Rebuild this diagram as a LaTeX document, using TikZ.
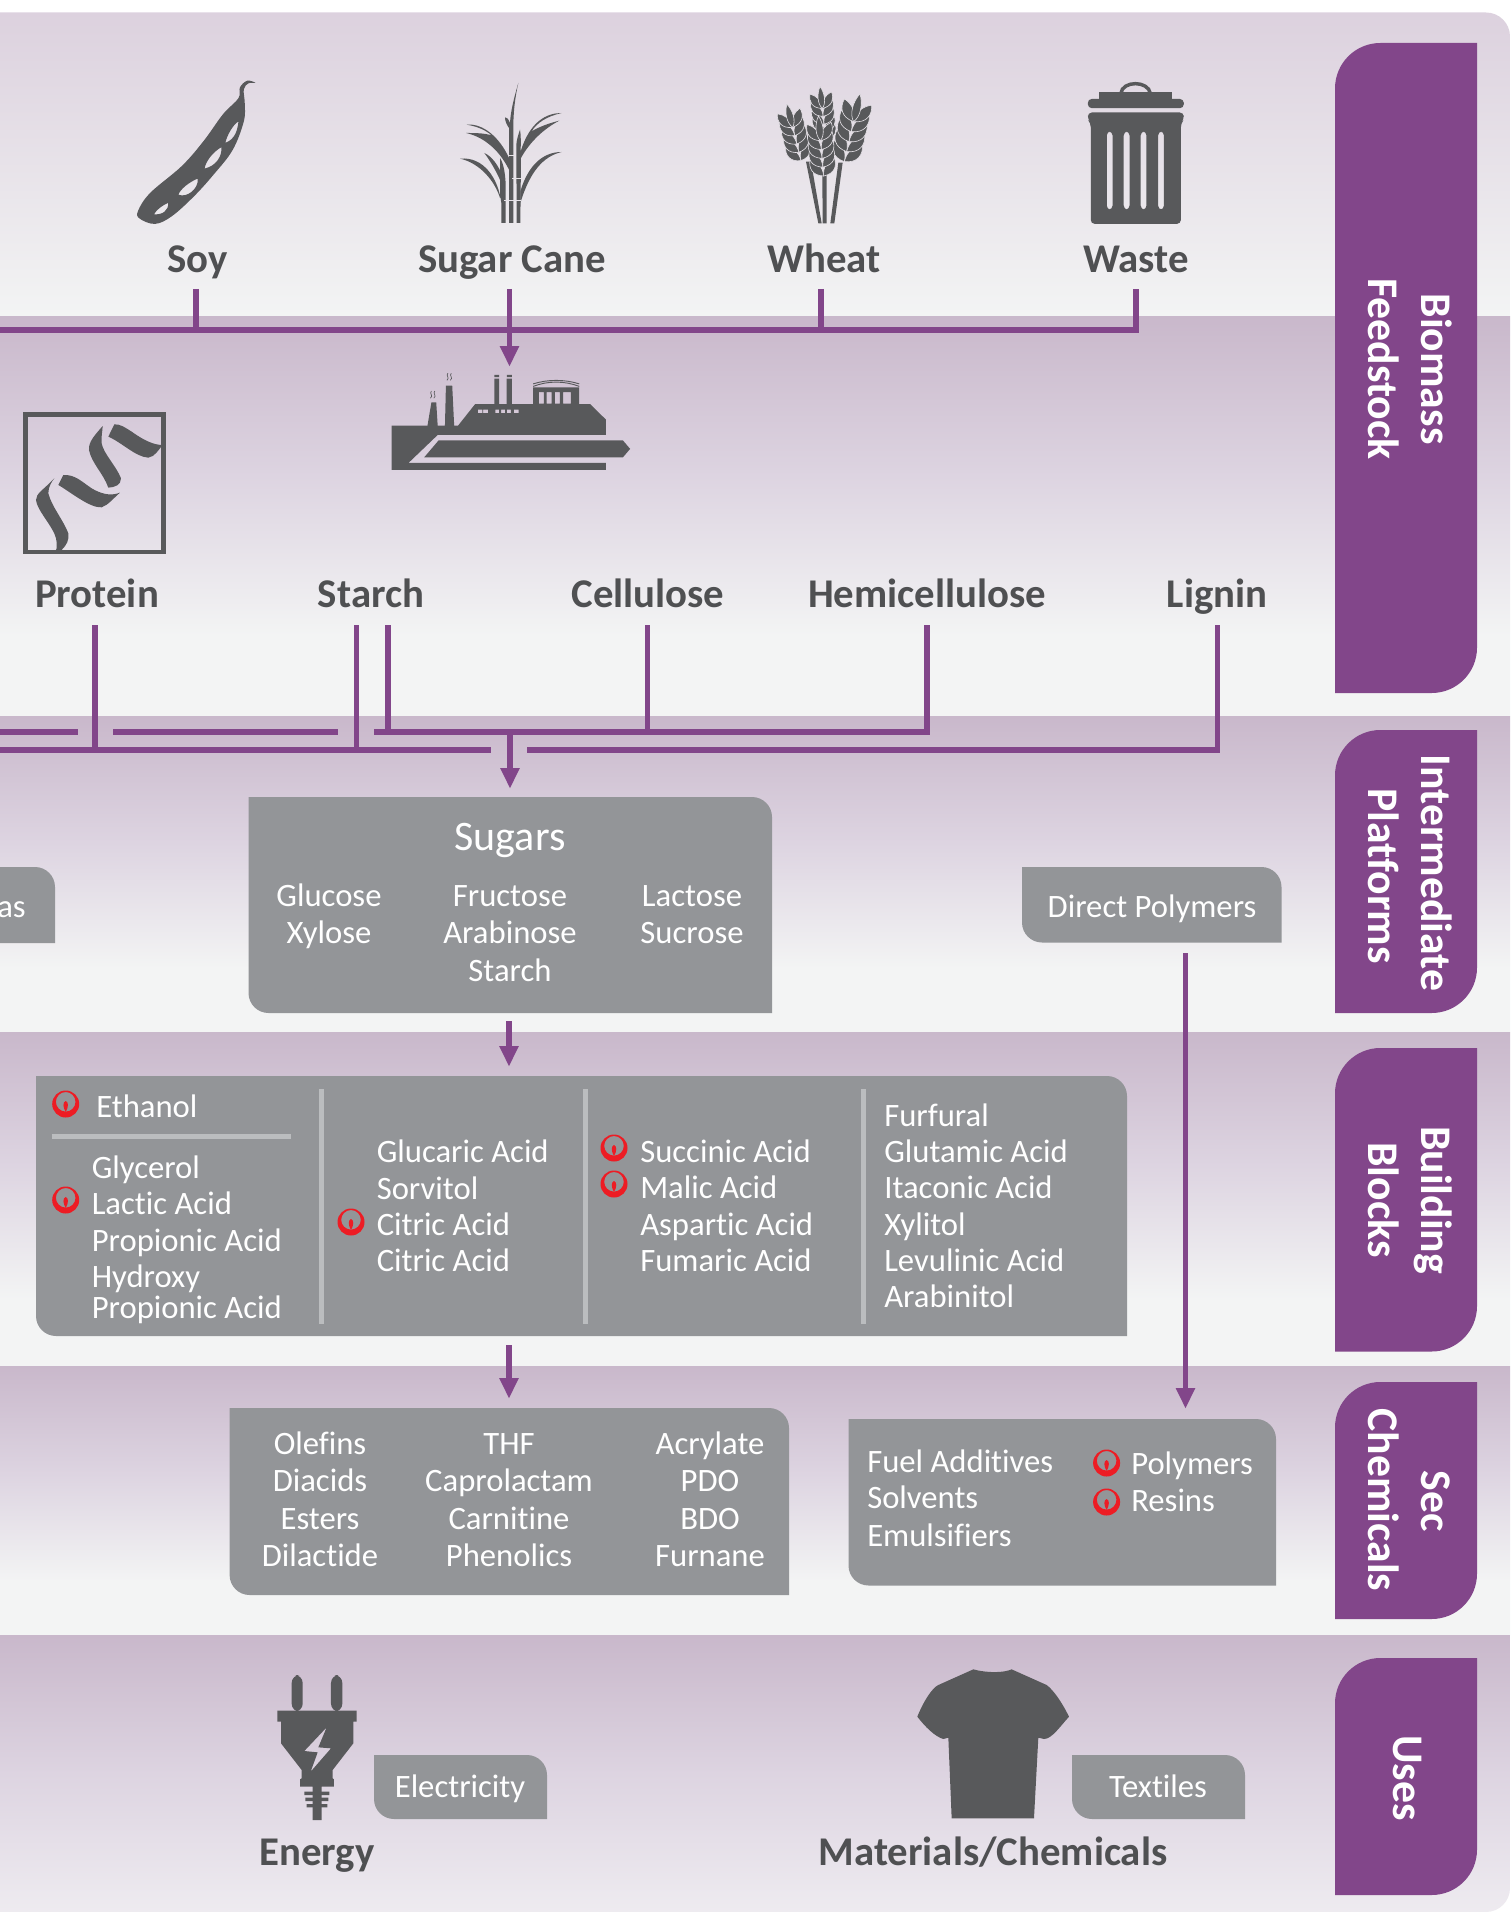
\documentclass[tikz,border=0pt]{standalone}
\usepackage{fontspec}
\setmainfont{Carlito}[Ligatures={NoCommon}]
\usetikzlibrary{arrows.meta,fit}

\definecolor{tabpurple}{HTML}{82468A}
\definecolor{boxgrey}{HTML}{939598}
\definecolor{icongrey}{HTML}{58595B}
\definecolor{labelgrey}{HTML}{4F5052}
\definecolor{rulegrey}{HTML}{BBBDBF}
\definecolor{markred}{HTML}{ED1C24}
\definecolor{hollow}{HTML}{E6E2E8}
\definecolor{bandtop}{HTML}{C9B8CB}
\definecolor{bandmid}{HTML}{DDD4E1}
\definecolor{bandlow}{HTML}{F3F4F4}
\definecolor{firsttop}{HTML}{DCD1DE}
\definecolor{lastlow}{HTML}{EEEBF0}

\pgfdeclareverticalshading{bandfade}{100bp}{color(0bp)=(bandlow);
  color(35bp)=(bandlow);
  color(55bp)=(bandmid);
  color(75bp)=(bandtop);
  color(100bp)=(bandtop)}
\pgfdeclareverticalshading{bandfadetop}{100bp}{color(0bp)=(bandlow);
  color(25bp)=(bandlow);
  color(75bp)=(firsttop);
  color(100bp)=(firsttop)}
\pgfdeclareverticalshading{bandfadelow}{100bp}{color(0bp)=(lastlow);
  color(25bp)=(lastlow);
  color(50bp)=(bandmid);
  color(75bp)=(bandtop);
  color(100bp)=(bandtop)}

\tikzset{
  leafbox/.style={inner sep=0pt,path picture={\fill[boxgrey] (path picture bounding box.north west) [rounded corners=15pt] -- (path picture bounding box.north east) [sharp corners] -- (path picture bounding box.south east) [rounded corners=15pt] -- (path picture bounding box.south west) [sharp corners] -- cycle;}},
  tabbox/.style={inner sep=0pt,path picture={\fill[tabpurple] (path picture bounding box.north east) [rounded corners=34pt] -- (path picture bounding box.north west) [sharp corners] -- (path picture bounding box.south west) [rounded corners=34pt] -- (path picture bounding box.south east) [sharp corners] -- cycle;}},
  bodytext/.style={anchor=base,inner sep=0pt,text=white,font=\fontsize{24.5pt}{26pt}\selectfont},
  lefttext/.style={bodytext,anchor=base west},
  croplabel/.style={anchor=base,inner xsep=0pt,inner ysep=4pt,text depth=8pt,text=labelgrey,font=\fontsize{30.6pt}{32pt}\selectfont\bfseries},
  partlabel/.style={croplabel,text depth=9.5pt},
  tabtext/.style={anchor=base,inner sep=0pt,rotate=-90,text=white,font=\fontsize{32.8pt}{35pt}\selectfont\bfseries},
  iconfit/.style={inner sep=0pt},
  link/.style={draw=tabpurple,line width=3.9pt},
  flow/.style={link,-{Triangle[length=15.5pt,width=13.5pt]}},
  divider/.style={draw=rulegrey,line width=3.75pt},
  grain/.style={fill=icongrey,draw=hollow,line width=0.45pt},
}

\newcommand{\ringmark}[2]{
  \begin{scope}[shift={(#1,#2)}]
    \fill[markred,even odd rule] (0,0) circle (13.5) (0,-2.2) circle (9.8);
    \fill[markred] (0,-3) .. controls (3,-2) and (3,3) .. (0,8) .. controls (-3,3) and (-3,-2) .. (0,-3) -- cycle;
  \end{scope}
}
\newcommand{\grainear}[4]{
  \begin{scope}[shift={(#1,#2)},rotate=#3,scale=#4]
    \foreach \k in {0,...,4}{
      \begin{scope}[shift={(0,{-28*\k})}]
        \filldraw[grain] (0,0) .. controls (-36,-4) and (-46,-30) .. (-38,-55) .. controls (-16,-46) and (0,-30) .. (0,0) -- cycle;
        \filldraw[grain] (0,0) .. controls (36,-4) and (46,-30) .. (38,-55) .. controls (16,-46) and (0,-30) .. (0,0) -- cycle;
      \end{scope}
    }
    \filldraw[grain] (0,-112) .. controls (-16,-130) and (-14,-165) .. (0,-190) .. controls (14,-165) and (16,-130) .. (0,-112) -- cycle;
  \end{scope}
}

\begin{document}
\begin{tikzpicture}[x=0.75pt,y=0.75pt,yscale=-1,xscale=1]
\useasboundingbox (0,0) rectangle (1510,1912);

%Shape: Bands
\path[shading=bandfadetop] (0,12.5) [rounded corners=18pt] -- (1510,12.5) [sharp corners] -- (1510,316) -- (0,316) -- cycle;
\path[shading=bandfade] (0,316) rectangle (1510,716);
\path[shading=bandfade] (0,716) rectangle (1510,1032);
\path[shading=bandfade] (0,1032) rectangle (1510,1366);
\path[shading=bandfade] (0,1366) rectangle (1510,1635);
\path[shading=bandfadelow] (0,1635) -- (1510,1635) [rounded corners=18pt] -- (1510,1912) [sharp corners] -- (0,1912) -- cycle;

%Shape: Side tabs
\node[tabbox,fit={(1335,43) (1477,693)}] (tabfeed) {};
\node[tabbox,fit={(1335,730) (1477,1013)}] (tabplatform) {};
\node[tabbox,fit={(1335,1048) (1477,1351.5)}] (tabblocks) {};
\node[tabbox,fit={(1335,1382) (1477,1619)}] (tabsec) {};
\node[tabbox,fit={(1335,1658) (1477,1895)}] (tabuses) {};

%Shape: Grey boxes
\node[leafbox,fit={(248.5,797) (772,1013)}] (sugars) {};
\node[leafbox,fit={(-30,867) (55,943)}] (gasbox) {};
\node[leafbox,fit={(1022,867) (1281.5,942.5)}] (directbox) {};
\node[leafbox,fit={(36,1076) (1127,1336)}] (blocks) {};
\node[leafbox,fit={(229.6,1408) (789,1595)}] (seclist) {};
\node[leafbox,fit={(848.5,1419) (1276,1585.5)}] (secpoly) {};
\node[leafbox,fit={(374,1755) (547,1819)}] (elecbox) {};
\node[leafbox,fit={(1072,1755) (1245,1819)}] (textilebox) {};

%Shape: Dividers
\draw[divider] (51.5,1136.5) -- (291,1136.5);
\draw[divider] (321.5,1089) -- (321.5,1324);
\draw[divider] (585,1089) -- (585,1324);
\draw[divider] (863,1089) -- (863,1324);

% Text Node
\node[croplabel] (soy) at (197.5,272.5) {Soy};
\node[croplabel] (cane) at (512,272.5) {Sugar Cane};
\node[croplabel] (wheat) at (824,272.5) {Wheat};
\node[croplabel] (waste) at (1136,272.5) {Waste};
\node[partlabel] (protein) at (97,607) {Protein};
\node[partlabel] (starch) at (371,607) {Starch};
\node[partlabel] (cellulose) at (648,607) {Cellulose};
\node[partlabel] (hemi) at (927,607) {Hemicellulose};
\node[partlabel] (lignin) at (1217,607) {Lignin};
\node[croplabel] (energy) at (317,1865) {Energy};
\node[croplabel] (materials) at (993,1865) {Materials/Chemicals};

% Text Node
\node[bodytext,font=\fontsize{31.5pt}{33pt}\selectfont] (sugarshead) at (510,850) {Sugars};
\node[bodytext] (glucose) at (329,906) {Glucose};
\node[bodytext] (xylose) at (329,943) {Xylose};
\node[bodytext] (fructose) at (510,906) {Fructose};
\node[bodytext] (arabinose) at (510,943) {Arabinose};
\node[bodytext] (starchitem) at (510,981) {Starch};
\node[bodytext] (lactose) at (692,906) {Lactose};
\node[bodytext] (sucrose) at (692,943) {Sucrose};
\node[lefttext,anchor=base east] (gasitem) at (26,917) {as};
\node[bodytext] (directitem) at (1152,917) {Direct Polymers};

% Text Node
\node[lefttext] (ethanol) at (96,1117) {Ethanol};
\node[lefttext] (glycerol) at (91.5,1178) {Glycerol};
\node[lefttext] (lactic) at (91.5,1214) {Lactic Acid};
\node[lefttext] (propionic) at (91.5,1251) {Propionic Acid};
\node[lefttext] (hydroxy) at (91.5,1287.5) {Hydroxy};
\node[lefttext] (hpropionic) at (91.5,1318) {Propionic Acid};
\node[lefttext] (glucaric) at (376.5,1162.5) {Glucaric Acid};
\node[lefttext] (sorbitol) at (376.5,1199) {Sorvitol};
\node[lefttext] (citric) at (376.5,1235) {Citric Acid};
\node[lefttext] (citrictwo) at (376.5,1271) {Citric Acid};
\node[lefttext] (succinic) at (640,1162.5) {Succinic Acid};
\node[lefttext] (malic) at (640,1198.5) {Malic Acid};
\node[lefttext] (aspartic) at (640,1235) {Aspartic Acid};
\node[lefttext] (fumaric) at (640,1271) {Fumaric Acid};
\node[lefttext] (furfural) at (884,1126) {Furfural};
\node[lefttext] (glutamic) at (884,1162.5) {Glutamic Acid};
\node[lefttext] (itaconic) at (884,1198.5) {Itaconic Acid};
\node[lefttext] (xylitol) at (884,1235) {Xylitol};
\node[lefttext] (levulinic) at (884,1271.5) {Levulinic Acid};
\node[lefttext] (arabinitol) at (884,1307.5) {Arabinitol};

% Text Node
\node[bodytext] (olefins) at (320,1454) {Olefins};
\node[bodytext] (diacids) at (320,1491) {Diacids};
\node[bodytext] (esters) at (320,1529) {Esters};
\node[bodytext] (dilactide) at (320,1566) {Dilactide};
\node[bodytext] (thf) at (509,1454) {THF};
\node[bodytext] (caprolactam) at (509,1491) {Caprolactam};
\node[bodytext] (carnitine) at (509,1529) {Carnitine};
\node[bodytext] (phenolics) at (509,1566) {Phenolics};
\node[bodytext] (acrylate) at (710,1454) {Acrylate};
\node[bodytext] (pdo) at (710,1491) {PDO};
\node[bodytext] (bdo) at (710,1529) {BDO};
\node[bodytext] (furnane) at (710,1566) {Furnane};
\node[lefttext] (fuel) at (867,1472) {Fuel Additives};
\node[lefttext] (solvents) at (867,1508) {Solvents};
\node[lefttext] (emulsifiers) at (867,1546) {Emulsifiers};
\node[lefttext] (polymers) at (1131,1474) {Polymers};
\node[lefttext] (resins) at (1131,1511) {Resins};
\node[bodytext] (electricity) at (460,1797.5) {Electricity};
\node[bodytext] (textiles) at (1158,1797.5) {Textiles};

% Text Node
\node[tabtext] (biomass) at (1421,369) {Biomass};
\node[tabtext] (feedstock) at (1368,369) {Feedstock};
\node[tabtext] (intermediate) at (1421,873) {Intermediate};
\node[tabtext] (platforms) at (1368,876) {Platforms};
\node[tabtext] (building) at (1421,1200) {Building};
\node[tabtext] (blockstext) at (1368,1200) {Blocks};
\node[tabtext] (sec) at (1421,1501) {Sec};
\node[tabtext] (chemicals) at (1368,1500) {Chemicals};
\node[tabtext] (uses) at (1393,1778) {Uses};

%Shape: Red marks
\ringmark{65.7}{1104}
\ringmark{65.7}{1200}
\ringmark{351}{1222}
\ringmark{614}{1148}
\ringmark{614}{1184}
\ringmark{1106.6}{1463}
\ringmark{1106.6}{1502}

%Curve Lines
\node[iconfit,fit={(392,367) (630,470)}] (factory) {};
\coordinate (soyjoin) at (196,330);
\coordinate (canejoin) at (509.5,330);
\coordinate (wheatjoin) at (821,330);
\coordinate (wastejoin) at (1136,330);
\coordinate (feedleft) at (0,330);
\draw[link] (feedleft) -- (wastejoin) -- (waste.south -| wastejoin);
\draw[link] (soy.south -| soyjoin) -- (soyjoin);
\draw[link] (wheat.south -| wheatjoin) -- (wheatjoin);
\draw[link] (cane.south -| canejoin) -- (canejoin);
\draw[flow] (canejoin) -- (factory.north -| canejoin);

\coordinate (upleft) at (0,732);
\coordinate (upgapa) at (77.5,732);
\coordinate (upgapb) at (113,732);
\coordinate (upgapc) at (338,732);
\coordinate (upgapd) at (374,732);
\coordinate (starchright) at (388,732);
\coordinate (cellulosejoin) at (647.5,732);
\coordinate (hemijoin) at (927,732);
\coordinate (sugarjoin) at (510,732);
\coordinate (lowleft) at (0,750);
\coordinate (lowgapa) at (491,750);
\coordinate (lowgapb) at (527,750);
\coordinate (proteinjoin) at (95,750);
\coordinate (starchleft) at (356.6,750);
\coordinate (ligninjoin) at (1217.5,750);
\draw[link] (upleft) -- (upgapa);
\draw[link] (upgapb) -- (upgapc);
\draw[link] (upgapd) -- (hemijoin) -- (hemi.south -| hemijoin);
\draw[link] (lowleft) -- (lowgapa);
\draw[link] (lowgapb) -- (ligninjoin) -- (lignin.south -| ligninjoin);
\draw[link] (protein.south -| proteinjoin) -- (proteinjoin);
\draw[link] (starch.south -| starchleft) -- (starchleft);
\draw[link] (starch.south -| starchright) -- (starchright);
\draw[link] (cellulose.south -| cellulosejoin) -- (cellulosejoin);
\draw[flow,shorten >=6pt] (sugarjoin) -- (sugars.north -| sugarjoin);

\coordinate (blocklane) at (509,1200);
\coordinate (directlane) at (1185.5,1200);
\draw[flow,shorten <=6pt,shorten >=6.75pt] (sugars.south -| blocklane) -- (blocks.north -| blocklane);
\draw[flow,shorten <=6.75pt,shorten >=6.75pt] (blocks.south -| blocklane) -- (seclist.north -| blocklane);
\draw[flow,shorten <=7.9pt,shorten >=7.5pt] (directbox.south -| directlane) -- (secpoly.north -| directlane);

%Shape: Soy pod
\begin{scope}[xscale=0.4847,yscale=0.3571]
\fill[icongrey,even odd rule] plot[smooth cycle,tension=0.6] coordinates {(527,232) (510,226) (495,245) (492,275) (460,320) (420,395) (375,465) (310,540) (285,590) (288,612) (320,627) (355,605) (400,550) (440,490) (480,420) (503,340) (505,290) (503,250) (513,233)}
  (492,340) .. controls (480,350) and (468,380) .. (465,400) .. controls (485,390) and (490,365) .. (492,340)
  (457,412) .. controls (440,425) and (425,450) .. (422,472) .. controls (445,465) and (458,440) .. (457,412)
  (408,500) .. controls (390,510) and (372,530) .. (368,545) .. controls (385,555) and (410,530) .. (408,500)
  (347,568) .. controls (335,575) and (322,588) .. (318,600) .. controls (335,602) and (348,590) .. (347,568);
\end{scope}

%Shape: Sugar cane
\begin{scope}[shift={(450,78)},scale=0.3333]
\fill[icongrey] (205,15) .. controls (195,60) and (190,100) .. (190,150) -- (190,435) -- (177,435) -- (177,150) .. controls (170,140) and (165,130) .. (165,118) .. controls (175,120) and (178,130) .. (180,135) .. controls (182,95) and (195,50) .. (205,15) -- cycle;
\fill[icongrey] (200,435) -- (199,200) .. controls (200,185) and (205,170) .. (210,155) .. controls (214,180) and (212,200) .. (212,220) .. controls (240,130) and (290,105) .. (335,105) .. controls (290,115) and (260,135) .. (245,160) .. controls (270,145) and (300,135) .. (328,128) .. controls (285,150) and (240,190) .. (213,240) -- (211,435) -- cycle;
\fill[icongrey] (211,340) .. controls (235,260) and (280,222) .. (335,222) .. controls (280,235) and (240,280) .. (211,375) -- cycle;
\fill[icongrey] (177,240) .. controls (150,180) and (100,135) .. (50,140) .. controls (80,145) and (105,155) .. (125,172) .. controls (100,165) and (75,165) .. (48,165) .. controls (95,175) and (145,210) .. (177,275) -- cycle;
\fill[icongrey] (167,435) -- (154,435) -- (154,375) .. controls (145,300) and (100,235) .. (30,242) .. controls (90,255) and (135,310) .. (150,360) -- (150,240) .. controls (160,255) and (166,285) .. (167,320) -- cycle;
\fill[icongrey] (103,225) .. controls (125,235) and (145,260) .. (160,300) -- (160,330) .. controls (145,290) and (125,255) .. (103,225) -- cycle;
\draw[hollow,line width=0.5pt] (175,232) -- (192,232) (186,300) -- (214,300) (162,368) -- (214,368);
\end{scope}

%Shape: Wheat
\begin{scope}[shift={(775,80)},scale=0.3333]
\fill[icongrey] (93,245) -- (130,430) -- (140,430) -- (108,245) -- cycle;
\fill[icongrey] (142,285) -- (143,430) -- (155,430) -- (155,285) -- cycle;
\fill[icongrey] (190,248) -- (166,430) -- (178,430) -- (203,248) -- cycle;
\grainear{152}{180}{-6}{0.85}
\grainear{78}{242}{-14}{0.92}
\grainear{208}{245}{13}{1.1}
\grainear{146}{288}{-5}{0.95}
\end{scope}

%Shape: Waste bin
\begin{scope}[shift={(750,0)},xscale=0.4847,yscale=0.3571]
\draw[icongrey,line width=2.6pt] (765,262) .. controls (768,225) and (822,225) .. (826,262);
\fill[icongrey] (720,258) rectangle (870,280);
\fill[icongrey,rounded corners=3pt] (697,303) -- (697,277) -- (895,277) -- (895,303) -- cycle;
\fill[icongrey,even odd rule,rounded corners=3pt] (697,315) -- (895,315) -- (895,335) -- (889,345) -- (889,627) -- (703,627) -- (703,345) -- (697,335) -- cycle
  (736,368) rectangle (748,587) (771,368) rectangle (783,587) (806,368) rectangle (818,587) (842,368) rectangle (854,587);
\end{scope}

%Shape: Factory
\begin{scope}[xscale=0.4847,yscale=0.3571]
\fill[icongrey,even odd rule] (808,1192) -- (882,1192) -- (890,1127) -- (900,1127) -- (903,1192) -- (918,1192) -- (920,1080) -- (933,1080) -- (937,1192) -- (945,1192) -- (980,1132) -- (1020,1132) -- (1020,1060) -- (1030,1060) -- (1030,1132) -- (1045,1132) -- (1045,1060) -- (1056,1060) -- (1056,1132) -- (1100,1132) -- (1100,1085) -- (1195,1085) -- (1195,1132) -- (1218,1132) -- (1250,1175) -- (1250,1218) -- (903,1218) -- (843,1296) -- (1250,1296) -- (1250,1316) -- (808,1316) -- cycle
  (1112,1098) rectangle (1122,1130) (1128,1098) rectangle (1138,1130) (1145,1098) rectangle (1155,1130) (1162,1098) rectangle (1178,1130)
  (986,1147) rectangle (995,1157) (997,1147) rectangle (1007,1157) (1022,1147) rectangle (1030,1157) (1034,1147) rectangle (1042,1157) (1046,1147) rectangle (1054,1157) (1060,1147) rectangle (1070,1157);
\fill[icongrey] (905,1233) -- (1285,1233) -- (1300,1257) -- (1285,1281) -- (875,1281) -- cycle;
\fill[icongrey] (1020,1050) rectangle (1030,1056) (1046,1050) rectangle (1056,1056);
\draw[icongrey,line width=0.7pt] (1100,1082) .. controls (1130,1066) and (1165,1066) .. (1195,1082) (1100,1075) .. controls (1130,1062) and (1165,1062) .. (1195,1075);
\draw[icongrey,line width=0.5pt] (890,1095) .. controls (885,1102) and (895,1108) .. (888,1115) (897,1095) .. controls (892,1102) and (902,1108) .. (895,1115) (924,1045) .. controls (919,1052) and (929,1058) .. (922,1065) (931,1045) .. controls (926,1052) and (936,1058) .. (929,1065);
\end{scope}

%Shape: Protein ribbon
\begin{scope}[shift={(20,410)},scale=0.3333]
\draw[icongrey,line width=3.4pt] (17,14) rectangle (431,426);
\fill[icongrey] (103,205) .. controls (70,240) and (48,250) .. (48,270) .. controls (50,300) and (100,350) .. (108,385) .. controls (112,400) and (110,420) .. (108,420) -- (125,420) .. controls (140,405) and (148,390) .. (145,370) .. controls (130,330) and (95,290) .. (85,250) .. controls (85,230) and (95,215) .. (103,205) -- cycle;
\fill[icongrey] (130,195) -- (115,225) .. controls (150,245) and (210,295) .. (245,292) .. controls (265,285) and (280,265) .. (300,248) .. controls (270,260) and (240,250) .. (215,235) .. controls (185,215) and (165,193) .. (130,195) -- cycle;
\fill[icongrey] (248,48) .. controls (225,75) and (205,95) .. (207,120) .. controls (215,160) and (250,190) .. (265,233) .. controls (285,232) and (303,225) .. (303,205) .. controls (290,170) and (250,130) .. (245,100) .. controls (243,80) and (248,60) .. (248,48) -- cycle;
\fill[icongrey] (283,43) -- (265,80) .. controls (310,100) and (345,140) .. (385,143) .. controls (405,140) and (415,120) .. (428,105) .. controls (400,105) and (370,90) .. (335,65) .. controls (315,52) and (300,42) .. (283,43) -- cycle;
\end{scope}

%Shape: Plug
\begin{scope}[shift={(270,1670)},scale=0.3333]
\fill[icongrey,rounded corners=6pt] (65,125) -- (65,15) -- (98,15) -- (98,125) -- cycle;
\fill[icongrey,rounded corners=6pt] (183,125) -- (183,15) -- (217,15) -- (217,125) -- cycle;
\fill[icongrey,even odd rule] (22,122) -- (260,122) -- (260,155) -- (250,155) -- (250,220) -- (188,300) -- (188,325) -- (192,328) -- (192,350) -- (155,350) -- (155,450) -- (128,450) -- (128,350) -- (90,350) -- (90,328) -- (95,325) -- (95,300) -- (33,220) -- (33,155) -- (22,155) -- cycle
  (170,172) -- (103,243) -- (143,247) -- (122,305) -- (183,235) -- (145,232) -- cycle;
\fill[icongrey] (103,365) rectangle (178,375) (106,383) rectangle (175,393) (110,402) rectangle (172,412);
\end{scope}

%Shape: Shirt
\begin{scope}[shift={(910,1665)},scale=0.3333]
\fill[icongrey] (190,13) .. controls (230,24) and (280,24) .. (305,13) -- (410,60) .. controls (430,75) and (455,110) .. (477,155) .. controls (450,185) and (425,222) .. (402,222) -- (385,218) -- (372,460) -- (125,460) -- (115,218) -- (100,222) .. controls (75,215) and (45,185) .. (22,155) .. controls (40,110) and (65,70) .. (85,60) -- cycle;
\end{scope}
\end{tikzpicture}
\end{document}
